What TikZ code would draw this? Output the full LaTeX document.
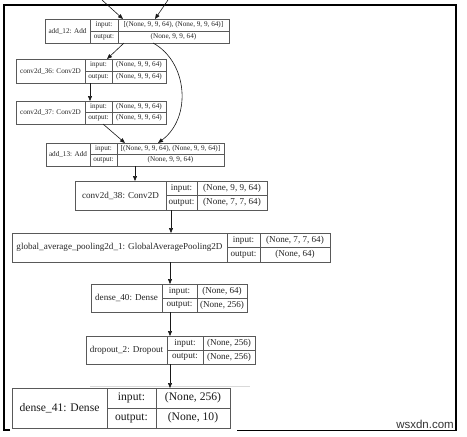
\documentclass[tikz,border=0pt]{standalone}
\usepackage{fontspec}
\setmainfont{Liberation Serif}
\newfontfamily\wmfont{Liberation Sans}
\usetikzlibrary{arrows.meta,calc}
\newcommand\fsz[1]{\fontsize{#1}{#1}\selectfont}
\def\lbparse#1,#2,#3,#4\relax{\def\lbxl{#1}\def\lbxa{#2}\def\lbxb{#3}\def\lbxr{#4}}
\newcommand\layerbox[7]{%
  \lbparse#2\relax
  \pgfmathsetmacro\lbw{\lbxr-\lbxl}%
  \pgfmathsetmacro\lbh{#4-#3}%
  \pgfmathsetmacro\lbym{(#3+#4)/2}%
  \pgfmathsetmacro\lbyi{(#3+\lbym)/2}%
  \pgfmathsetmacro\lbyo{(#4+\lbym)/2}%
  \pgfmathsetmacro\lbcl{(\lbxl+\lbxa)/2}%
  \pgfmathsetmacro\lbck{(\lbxa+\lbxb)/2}%
  \pgfmathsetmacro\lbcv{(\lbxb+\lbxr)/2}%
  \node[layer, minimum width=\lbw pt, minimum height=\lbh pt, anchor=north west] (#1) at (\lbxl,#3) {};
  \draw[cellline] (\lbxa,#3) -- (\lbxa,#4) (\lbxb,#3) -- (\lbxb,#4) (\lbxa,\lbym) -- (\lbxr,\lbym);
  \node[txt] (#1-l) at (\lbcl,\lbym) {#5};
  \node[txt] (#1-ik) at (\lbck,\lbyi) {input:};
  \node[txt] (#1-ok) at (\lbck,\lbyo) {output:};
  \node[txt] (#1-iv) at (\lbcv,\lbyi) {#6};
  \node[txt] (#1-ov) at (\lbcv,\lbyo) {#7};
}
\begin{document}
\begin{tikzpicture}[x=1pt,y=-1pt,
  layer/.style={draw=black!65, line width=0.8pt, inner sep=0pt, outer sep=0pt, fill=white},
  cellline/.style={draw=black!65, line width=0.8pt},
  txt/.style={inner sep=0pt, text=black!85, font=\fsz{7.2}},
  arr/.style={draw=black!90, line width=0.6pt, -{Triangle[length=5pt,width=4pt]}},
  frame/.style={draw=black, line width=1.3pt}]
\useasboundingbox[fill=white] (0,0) rectangle (467,437);
% outer frame
\draw[frame] (10,430) -- (4,430) -- (4,5) -- (456,5) -- (456,430.5) -- (237,430.5);
\draw[draw=black!15, line width=1pt] (90,386) -- (250,386);
% layers
\layerbox{a12}{45,90,118,229}{19}{43}{add\_12: Add}{[(None, 9, 9, 64), (None, 9, 9, 64)]}{(None, 9, 9, 64)}
\layerbox{c36}{16,85,112,166}{59}{83}{conv2d\_36: Conv2D}{(None, 9, 9, 64)}{(None, 9, 9, 64)}
\layerbox{c37}{16,85,112,166}{101}{124}{conv2d\_37: Conv2D}{(None, 9, 9, 64)}{(None, 9, 9, 64)}
\layerbox{a13}{46,90,117,224}{143}{166}{add\_13: Add}{[(None, 9, 9, 64), (None, 9, 9, 64)]}{(None, 9, 9, 64)}
\begin{scope}[txt/.style={inner sep=0pt, text=black!85, font=\fsz{9.1}}]
\layerbox{c38}{75,166,197,267}{181}{210}{conv2d\_38: Conv2D}{(None, 9, 9, 64)}{(None, 7, 7, 64)}
\layerbox{gap}{12,227,260,330}{233}{262}{global\_average\_pooling2d\_1: GlobalAveragePooling2D}{(None, 7, 7, 64)}{(None, 64)}
\layerbox{d40}{91,162,197,247}{284}{312}{dense\_40: Dense}{(None, 64)}{(None, 256)}
\layerbox{dr2}{86,167,203,255}{336}{364}{dropout\_2: Dropout}{(None, 256)}{(None, 256)}
\end{scope}
\begin{scope}[txt/.style={inner sep=0pt, text=black!90, font=\fsz{11.6}}]
\layerbox{d41}{12,107,156,230}{388}{428}{dense\_41: Dense}{(None, 256)}{(None, 10)}
\end{scope}
% connectors
\coordinate (ina) at (102,0);
\coordinate (inb) at (168,0);
\draw[arr] (ina) -- ([xshift=-14pt]a12.north);
\draw[arr] (inb) -- ([xshift=18pt]a12.north);
\draw[arr] ([xshift=-13pt]a12.south) -- ([xshift=16pt]c36.north);
\draw[arr] ([xshift=16pt]a12.south) .. controls (188,62) and (192,118) .. ([xshift=23pt]a13.north);
\draw[arr] ([xshift=-1pt]c36.south) -- ([xshift=-1pt]c37.north);
\draw[arr] ([xshift=12pt]c37.south) -- ([xshift=-10pt]a13.north);
\draw[arr] (a13.south) -- (a13.south |- c38.north);
\draw[arr] (c38.south) -- (c38.south |- gap.north);
\draw[arr] ([xshift=-1pt]gap.south) -- ([xshift=-1pt]gap.south |- d40.north);
\draw[arr] ([xshift=1pt]d40.south) -- ([xshift=1pt]d40.south |- dr2.north);
\draw[arr] ([xshift=-0.5pt]dr2.south) -- ([xshift=-0.5pt]dr2.south |- d41.north);
% watermark
\node[anchor=base east, inner sep=0pt, text=black!80, font=\wmfont\fsz{11.5}] (wm) at (454,428.5) {wsxdn.com};
\end{tikzpicture}
\end{document}
